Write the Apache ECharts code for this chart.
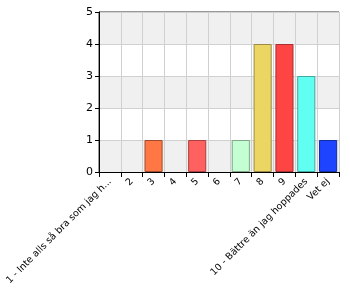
<!DOCTYPE html>
<html><head><meta charset="utf-8">
<script src="https://cdn.jsdelivr.net/npm/echarts@6/dist/echarts.min.js"></script>
<style>html,body{margin:0;padding:0;background:#fff}#c{width:350px;height:300px}</style>
</head><body><div id="c"></div>
<script>
const categories = ["1 - Inte alls så bra som jag h...", "2", "3", "4", "5", "6", "7", "8", "9", "10 - Bättre än jag hoppades", "Vet ej"];
const values = [0, 0, 1, 0, 1, 0, 1, 4, 4, 3, 1];
const barColors = ["#ff7744", "#ff7744", "#ff7744", "#ff6060", "#ff6060", "#c4ffd4", "#c4ffd4", "#ebd663", "#ff4444", "#60fff2", "#1e44ff"];
const borderColors = ["#a04a30", "#a04a30", "#a04a30", "#a84040", "#a84040", "#80a888", "#80a888", "#9a8c48", "#a83030", "#40a8a0", "#1030a0"];
const yTicks = [0, 1, 2, 3, 4, 5];

const chart = echarts.init(document.getElementById('c'));
chart.setOption({
  animation: false,
  grid: {left: 99, right: 11, top: 12, bottom: 128, show: true, borderColor: '#333', borderWidth: 1, backgroundColor: 'transparent'},
  xAxis: {
    type: 'category', data: categories, boundaryGap: true,
    axisLine: {lineStyle: {color: '#000'}},
    axisTick: {show: true, length: 5, lineStyle: {color: '#000'}, alignWithLabel: false},
    splitLine: {show: true, lineStyle: {color: '#d0d0d0'}},
    axisLabel: {rotate: 45, interval: 0, fontSize: 9.5, color: '#000', fontFamily: 'DejaVu Sans', margin: 8}
  },
  yAxis: {
    type: 'value', min: 0, max: 5, interval: 1,
    axisLine: {show: true, lineStyle: {color: '#000'}},
    axisTick: {show: true, length: 4, lineStyle: {color: '#000'}},
    splitLine: {show: true, lineStyle: {color: '#d0d0d0'}},
    splitArea: {show: true, areaStyle: {color: ['#f0f0f0', '#ffffff']}},
    axisLabel: {fontSize: 11, color: '#000', fontFamily: 'DejaVu Sans', margin: 6,
      formatter: v => yTicks.includes(v) ? String(v) : ''}
  },
  series: [{
    type: 'bar', barWidth: '83%',
    data: values.map((v, i) => v > 0
      ? {value: v, itemStyle: {color: barColors[i], borderColor: borderColors[i], borderWidth: 1}}
      : {value: v, itemStyle: {color: 'transparent', borderWidth: 0}})
  }]
});
</script></body></html>
